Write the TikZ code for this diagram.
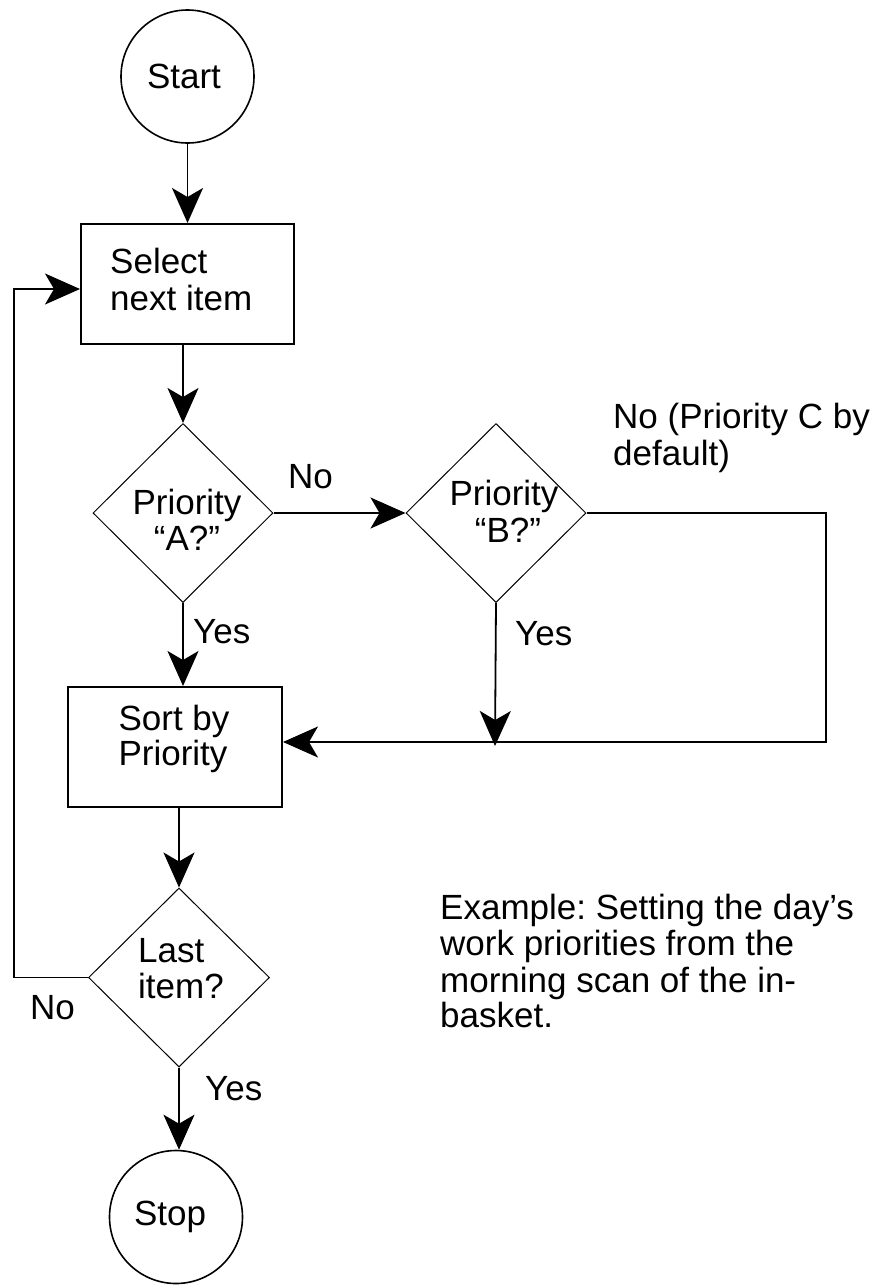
\documentclass[tikz,border=0pt]{standalone}
\usepackage{fontspec}
\setmainfont{Liberation Sans}
\usetikzlibrary{arrows.meta,shapes.geometric}
\frenchspacing
\begin{document}
\begin{tikzpicture}[x=1pt,y=-1pt,
  lbl/.style={inner sep=0pt, font=\fontsize{35}{40}\selectfont},
  conn/.style={line width=1.8pt, -{Stealth[length=35pt,width=31pt,inset=9pt]}},
  term/.style={circle, draw, line width=1.6pt, minimum size=133pt, inner sep=0pt},
  procbox/.style={rectangle, draw, line width=2pt, minimum width=213pt, minimum height=120pt, inner sep=0pt},
  decide/.style={diamond, draw, line width=1pt, minimum width=180pt, minimum height=179pt, inner sep=0pt}
]
\useasboundingbox (0,0) rectangle (880,1286);

% terminals
\node[term] (start) at (187.5,76.5) {};
\node[lbl, anchor=base] (startT) at (184,88) {Start};
\node[term] (stop) at (176,1217) {};
\node[lbl, anchor=base] (stopT) at (170,1225) {Stop};

% process boxes
\node[procbox] (sel) at (187.5,284) {};
\node[lbl, anchor=base west] (selT1) at (110,273) {Select};
\node[lbl, anchor=base west] (selT2) at (110,310) {next item};

\node[procbox, minimum width=214pt] (sort) at (175,747) {};
\node[lbl, anchor=base] (sortT1) at (174,730) {Sort by};
\node[lbl, anchor=base] (sortT2) at (173,765) {Priority};

% decisions
\node[decide] (qa) at (183,513) {};
\node[lbl, anchor=base] (qaT1) at (187,514) {Priority};
\node[lbl, anchor=base] (qaT2) at (187,550) {“A?”};

\node[decide] (qb) at (496,513) {};
\node[lbl, anchor=base] (qbT1) at (504,505) {Priority};
\node[lbl, anchor=base] (qbT2) at (508,542) {“B?”};

\node[decide, minimum width=181pt] (last) at (179,977.5) {};
\node[lbl, anchor=base west] (lastT1) at (138,962) {Last};
\node[lbl, anchor=base west] (lastT2) at (138,998) {item?};

% branch labels
\node[lbl, anchor=base west] (noA) at (288,488) {No};
\node[lbl, anchor=base west] (noC1) at (613,428) {No (Priority C by};
\node[lbl, anchor=base west] (noC2) at (613,465) {default)};
\node[lbl, anchor=base west] (yesA) at (193,643) {Yes};
\node[lbl, anchor=base west] (yesB) at (515,645) {Yes};
\node[lbl, anchor=base west] (noL) at (30,1019) {No};
\node[lbl, anchor=base west] (yesL) at (205,1100) {Yes};

% note
\node[lbl, anchor=base west] (ex1) at (440,919) {Example: Setting the day’s};
\node[lbl, anchor=base west] (ex2) at (440,955) {work priorities from the};
\node[lbl, anchor=base west] (ex3) at (440,992) {morning scan of the in-};
\node[lbl, anchor=base west] (ex4) at (440,1027) {basket.};

% bend points
\coordinate (bjoin) at (495,746);
\coordinate (cR) at (826,742);
\coordinate (cL) at (14,289);

% connectors
\draw[conn] (start.south) -- (sel.north);
\draw[conn] (qa.north |- sel.south) -- (qa.north);
\draw[conn] (qa.east) -- (qb.west);
\draw[conn] (qa.south) -- (qa.south |- sort.north);
\draw[conn] (qb.south) -- (bjoin);
\draw[conn] (qb.east) -| (cR) -- (cR -| sort.east);
\draw[conn] (last.north |- sort.south) -- (last.north);
\draw[conn] (last.west) -| (cL) -- (cL -| sel.west);
\draw[conn] (last.south) -- (last.south |- stop.north);
\end{tikzpicture}
\end{document}
